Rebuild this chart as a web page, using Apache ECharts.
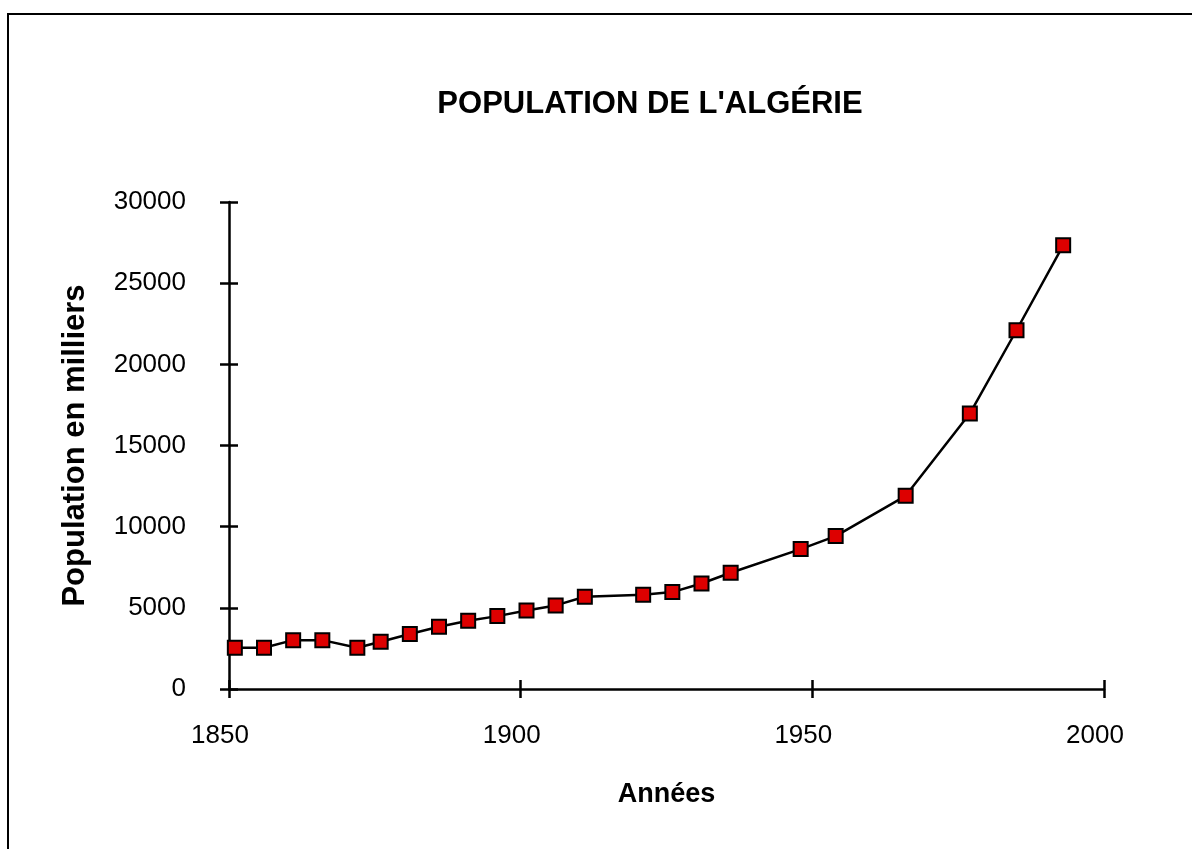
<!DOCTYPE html>
<html>
<head>
<meta charset="utf-8">
<title>Population de l'Algérie</title>
<script src="https://cdn.jsdelivr.net/npm/echarts@6/dist/echarts.min.js"></script>
<style>
  html, body { margin: 0; padding: 0; background: #fff; }
  #chart { width: 1192px; height: 849px; }
</style>
</head>
<body>
<div id="chart"></div>
<script>
  // census years and population (thousands)
  var years = [1851, 1856, 1861, 1866, 1872, 1876, 1881, 1886, 1891, 1896, 1901, 1906,
    1911, 1921, 1926, 1931, 1936, 1948, 1954, 1966, 1977, 1985, 1993];
  var population = [2540, 2540, 3010, 3010, 2540, 2910, 3390, 3830, 4200, 4490, 4840, 5150,
    5680, 5800, 5970, 6500, 7160, 8620, 9420, 11900, 16970, 22100, 27330];
  var xTicks = [1850, 1900, 1950, 2000];
  var yTicks = [0, 5000, 10000, 15000, 20000, 25000, 30000];

  var font = '"Liberation Sans", Arial, sans-serif';
  var points = years.map(function (y, i) { return [y, population[i]]; });
  var plain = function (v) { return String(v); };

  var chart = echarts.init(document.getElementById('chart'));

  var tickStyle = { color: '#000', width: 2.5 };
  var xBase = {
    type: 'value',
    position: 'bottom',
    min: xTicks[0],
    max: xTicks[xTicks.length - 1],
    interval: 50,
    splitLine: { show: false }
  };
  var yBase = {
    type: 'value',
    position: 'left',
    min: yTicks[0],
    max: yTicks[yTicks.length - 1],
    interval: 5000,
    splitLine: { show: false }
  };

  chart.setOption({
    animation: false,
    backgroundColor: '#fff',
    title: {
      text: "POPULATION DE L'ALGÉRIE",
      left: 645,
      textAlign: 'center',
      top: 84,
      textStyle: { fontFamily: font, fontSize: 31, fontWeight: 'bold', color: '#000' }
    },
    grid: { left: 229, right: 88, top: 202, bottom: 160 },
    xAxis: [
      Object.assign({}, xBase, {
        name: 'Années',
        nameLocation: 'middle',
        nameGap: 92,
        nameTextStyle: { fontFamily: font, fontSize: 27, fontWeight: 'bold', color: '#000' },
        axisLine: { onZero: false, lineStyle: { color: '#000', width: 2.5 } },
        axisTick: { length: 9, lineStyle: tickStyle },
        axisLabel: { margin: 34, fontFamily: font, fontSize: 26, color: '#000', formatter: plain, padding: [0, 18, 0, 0] }
      }),
      Object.assign({}, xBase, {
        show: true,
        axisLine: { show: false, onZero: false },
        axisTick: { show: true, inside: true, length: 9, lineStyle: tickStyle },
        axisLabel: { show: false }
      })
    ],
    yAxis: [
      Object.assign({}, yBase, {
        name: 'Population en milliers',
        nameLocation: 'middle',
        nameGap: 138,
        nameRotate: 90,
        nameTextStyle: { fontFamily: font, fontSize: 31, fontWeight: 'bold', color: '#000' },
        axisLine: { show: true, onZero: false, lineStyle: { color: '#000', width: 2.5 } },
        axisTick: { show: true, length: 9, lineStyle: tickStyle },
        axisLabel: { margin: 43, fontFamily: font, fontSize: 26, color: '#000', formatter: plain }
      }),
      Object.assign({}, yBase, {
        show: true,
        axisLine: { show: false, onZero: false },
        axisTick: { show: true, inside: true, length: 9, lineStyle: tickStyle },
        axisLabel: { show: false }
      })
    ],
    graphic: [
      {
        type: 'polyline',
        silent: true,
        shape: { points: [[8, 860], [8, 14], [1200, 14]] },
        style: { stroke: '#000', lineWidth: 2, fill: null }
      }
    ],
    series: [
      {
        type: 'line',
        xAxisIndex: 0,
        yAxisIndex: 0,
        data: points,
        symbol: 'rect',
        symbolSize: 14,
        lineStyle: { color: '#000', width: 2.5 },
        itemStyle: { color: '#dd0000', borderColor: '#000', borderWidth: 2 }
      },
      {
        // empty series so the tick-only overlay axes get laid out
        type: 'line',
        xAxisIndex: 1,
        yAxisIndex: 1,
        data: [],
        silent: true
      }
    ]
  });
</script>
</body>
</html>
